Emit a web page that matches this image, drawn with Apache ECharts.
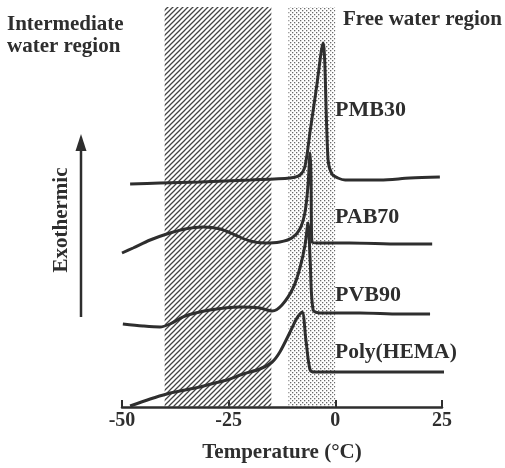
<!DOCTYPE html>
<html>
<head>
<meta charset="utf-8">
<script src="https://cdn.jsdelivr.net/npm/echarts@6/dist/echarts.min.js"></script>
<style>
html, body { margin: 0; padding: 0; background: #fff; }
#chart { width: 505px; height: 468px; }
</style>
</head>
<body>
<div id="chart"></div>
<script>
// Temperature axis
const xTicks = [-50, -25, 0, 25];

// Shaded temperature bands (°C)
const intermediateRegion = [-40, -15];
const freeRegion = [-11, 0];

// DSC cooling traces: temperature (°C) and offset heat-flow signal (a.u.)
const pmb30T = [-48.1, -41.1, -31.7, -20, -10.6, -8.3, -7.1, -5.9, -4.5, -2.9, -1.7, -0.8, 0.6, 2.3, 10.5, 17.5, 24.5];
const pmb30Y = [55.75, 56, 56.25, 56.75, 57.25, 58, 60.25, 69, 79.25, 91, 61.75, 58.25, 57.25, 56.75, 56.75, 57.25, 57.5];

const pab70T = [-50, -47.4, -43.4, -39.5, -35.2, -31, -27, -23.5, -20, -16.5, -13, -10.2, -8.3, -7.1, -6.4, -5.9, -5.7, -5.5, -4.1, 3.4, 15.2, 22.7];
const pab70Y = [38.5, 39.75, 41.75, 43.25, 44.5, 45, 44.5, 43, 41.5, 41, 41.25, 42.25, 44.5, 48.75, 55.5, 63.5, 58, 41.25, 41, 41, 40.75, 40.75];

const pvb90T = [-49.8, -45.1, -41.1, -38.75, -35.2, -29.4, -22.3, -17.7, -14.8, -12.5, -9.9, -8.3, -7.1, -6.4, -5.9, -5.2, -3.6, 5.8, 15.2, 22.2];
const pvb90Y = [20.75, 20.25, 20, 20.75, 22.75, 24.25, 25, 24.75, 24, 25.5, 29.75, 34.75, 40.5, 46, 36.75, 24.25, 23.5, 23.5, 23.25, 23.25];

const hemaT = [-48.1, -43.4, -39.5, -35.2, -31.7, -28.2, -25.4, -21.6, -17.7, -14.8, -13, -10.6, -9, -7.8, -6.9, -5.9, -4.8, 5.8, 15.2, 25.5];
const hemaY = [0.25, 2, 3.25, 4.25, 5, 6, 6.75, 8.25, 9.5, 11.25, 13.75, 18.75, 22.25, 23.75, 16.75, 9.25, 8.75, 8.75, 8.75, 8.75];

const traceNames = ['PMB30', 'PAB70', 'PVB90', 'Poly(HEMA)'];
const traces = [[pmb30T, pmb30Y], [pab70T, pab70Y], [pvb90T, pvb90Y], [hemaT, hemaY]];

const ink = '#2e2e2e';
const serif = '"Liberation Serif", "DejaVu Serif", serif';

// Diagonal hatch tile
function hatchTile() {
  const s = 5;
  const c = document.createElement('canvas');
  c.width = s; c.height = s;
  const g = c.getContext('2d');
  g.strokeStyle = '#444';
  g.lineWidth = 1.25;
  g.beginPath();
  g.moveTo(-1, s + 1); g.lineTo(s + 1, -1);
  g.moveTo(-1, 1); g.lineTo(1, -1);
  g.moveTo(s - 1, s + 1); g.lineTo(s + 1, s - 1);
  g.stroke();
  return c;
}

// Stipple tile
function dotTile() {
  const c = document.createElement('canvas');
  c.width = 4; c.height = 4;
  const g = c.getContext('2d');
  g.fillStyle = '#6a6a6a';
  g.fillRect(0, 0, 1.3, 1.3);
  g.fillRect(2, 2, 1.3, 1.3);
  return c;
}

const chart = echarts.init(document.getElementById('chart'), null, { renderer: 'canvas' });

const series = traces.map(function (tr, i) {
  return {
    name: traceNames[i],
    type: 'line',
    data: tr[0].map(function (t, k) { return [t, tr[1][k]]; }),
    smooth: 0.3,
    symbol: 'none',
    z: 5,
    lineStyle: { color: ink, width: 3 }
  };
});

// Background bands
series.unshift({
  name: 'bands',
  type: 'line',
  data: [],
  silent: true,
  markArea: {
    silent: true,
    z: 1,
    data: [
      [{ xAxis: intermediateRegion[0], itemStyle: { color: { image: hatchTile(), repeat: 'repeat' } } }, { xAxis: intermediateRegion[1] }],
      [{ xAxis: freeRegion[0], itemStyle: { color: { image: dotTile(), repeat: 'repeat' } } }, { xAxis: freeRegion[1] }]
    ]
  }
});

function label(text, x, y, size) {
  return {
    type: 'text',
    x: x, y: y,
    z: 10,
    style: {
      text: text,
      font: 'bold ' + size + 'px ' + serif,
      fill: ink,
      align: 'left', verticalAlign: 'middle',
      textAlign: 'left', textVerticalAlign: 'middle'
    }
  };
}

chart.setOption({
  animation: false,
  backgroundColor: '#fff',
  grid: { left: 122, right: 63, top: 7, bottom: 61 },
  xAxis: {
    type: 'value',
    min: xTicks[0],
    max: xTicks[xTicks.length - 1],
    interval: 25,
    splitLine: { show: false },
    axisLine: { onZero: false, lineStyle: { color: ink, width: 2.5 } },
    axisTick: { inside: true, length: 7, lineStyle: { color: ink, width: 2 } },
    axisLabel: { color: ink, fontFamily: serif, fontWeight: 'bold', fontSize: 20, margin: 4 },
    name: 'Temperature (°C)',
    nameLocation: 'middle',
    nameGap: 35,
    nameTextStyle: { color: ink, fontFamily: serif, fontWeight: 'bold', fontSize: 21 }
  },
  yAxis: {
    type: 'value',
    min: 0,
    max: 100,
    show: false
  },
  series: series,
  graphic: [
    label('Intermediate', 7, 25, 21),
    label('water region', 7, 47, 21),
    label('Free water region', 343, 20, 21),
    label('PMB30', 335, 110, 22),
    label('PAB70', 335, 217, 22),
    label('PVB90', 335, 295, 22),
    label('Poly(HEMA)', 335, 352, 21.5),
    {
      type: 'line',
      shape: { x1: 81, y1: 317, x2: 81, y2: 146 },
      style: { stroke: ink, lineWidth: 2.5 }
    },
    {
      type: 'polygon',
      shape: { points: [[81, 134], [75.5, 151], [86.5, 151]] },
      style: { fill: ink }
    },
    {
      type: 'text',
      x: 62, y: 220,
      rotation: Math.PI / 2,
      style: {
        text: 'Exothermic',
        font: 'bold 21px ' + serif,
        fill: ink,
        align: 'center', verticalAlign: 'middle',
        textAlign: 'center', textVerticalAlign: 'middle'
      }
    }
  ]
});
</script>
</body>
</html>
